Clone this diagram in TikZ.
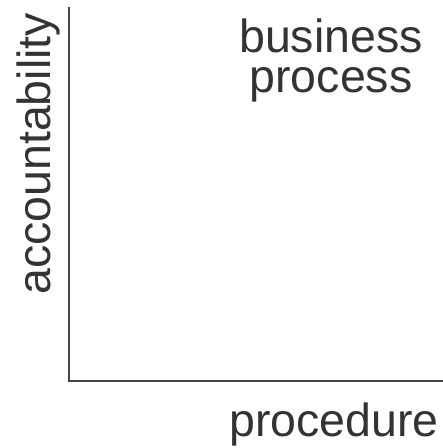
\documentclass[tikz,border=0pt]{standalone}
\usepackage{fontspec}
\setmainfont{Liberation Sans}
\usetikzlibrary{positioning}
\definecolor{axisgray}{HTML}{444444}
\definecolor{textgray}{HTML}{333333}
\tikzset{axislabel/.style={inner sep=0pt,text=textgray,font=\fontsize{46.5}{40}\selectfont},
 axisline/.style={draw=axisgray,line width=2pt}}

\begin{document}
\begin{tikzpicture}[x=1pt,y=1pt]
 \useasboundingbox (0,0) rectangle (443,448);
 \coordinate (ytop) at (69,441);
 \coordinate (origin) at (69,67);
 \coordinate (xend) at (443,67);
 \draw[axisline](ytop)--(origin)--(xend);
 \node[axislabel,rotate=90,anchor=base west] (accountability) at (50,153) {accountability};
 \node[axislabel,align=center,anchor=base] (bprocess) at (331,355) {business\\process};
 \node[axislabel,anchor=base east] (procedure) at (439,12) {procedure};
\end{tikzpicture}
\end{document}
